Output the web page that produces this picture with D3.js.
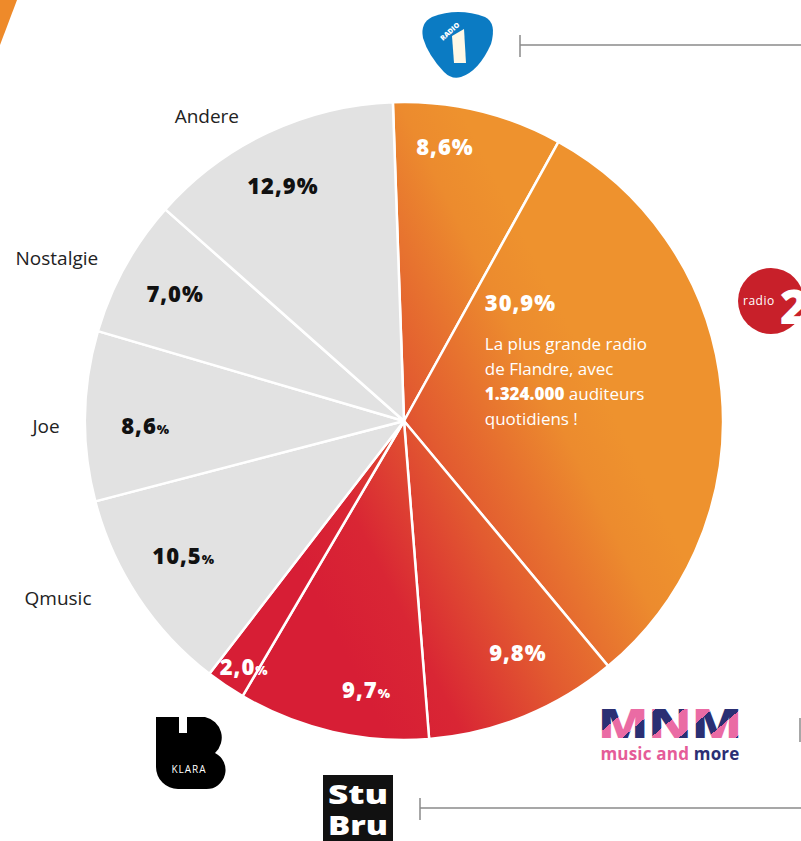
<!DOCTYPE html>
<html>
<head>
<meta charset="UTF-8">
<title></title>
<script src="https://d3js.org/d3.v7.min.js"></script>
<style>
  html, body { margin: 0; padding: 0; background: #fff; }
  svg { display: block; font-family: "Open Sans", Lato, sans-serif; }
</style>
</head>
<body>
<div id="chart"></div>
<script>
  // aandeel per zender (%), vanaf 12 uur met de klok mee
  const stations = ["Radio 1", "Radio 2", "MNM", "StuBru", "Klara", "Qmusic", "Joe", "Nostalgie", "Andere"];
  const shares = [8.6, 30.9, 9.8, 9.7, 2.0, 10.5, 8.6, 7.0, 12.9];
  const shareLabels = ["8,6", "30,9", "9,8", "9,7", "2,0", "10,5", "8,6", "7,0", "12,9"];
  const smallPercent = [false, false, false, true, true, true, true, false, false];
  const isVrt = [true, true, true, true, true, false, false, false, false];
  const outsideNames = ["", "", "", "", "", "Qmusic", "Joe", "Nostalgie", "Andere"];
  const radio2Note = ["La plus grande radio", "de Flandre, avec", "1.324.000|auditeurs", "quotidiens !"];

  const width = 801, height = 841;
  const cx = 404, cy = 421, radius = 319;
  const deg = Math.PI / 180;

  const svg = d3.select("#chart").append("svg").attr("width", width).attr("height", height);

  const defs = svg.append("defs");
  // verloop in het assenstelsel van de taart (middelpunt = 0,0)
  const grad = defs.append("linearGradient").attr("id", "vrtGrad")
    .attr("gradientUnits", "userSpaceOnUse")
    .attr("x1", -140).attr("y1", 70).attr("x2", 170).attr("y2", -85);
  grad.append("stop").attr("offset", "0").attr("stop-color", "#d71e35");
  grad.append("stop").attr("offset", "0.2").attr("stop-color", "#d92634");
  grad.append("stop").attr("offset", "0.5").attr("stop-color", "#e25a30");
  grad.append("stop").attr("offset", "0.85").attr("stop-color", "#ec8b2e");
  grad.append("stop").attr("offset", "1").attr("stop-color", "#ee922e");

  // oranje hoekje linksboven
  svg.append("path").attr("d", "M0,0 L17,0 L0,45 Z").attr("fill", "#ee8a2a");

  const pie = d3.pie().sort(null).value(d => d)
    .startAngle(-2 * deg).endAngle(358 * deg);
  const arcs = pie(shares);
  const arc = d3.arc().innerRadius(0).outerRadius(radius);

  const g = svg.append("g").attr("transform", `translate(${cx},${cy})`);

  g.selectAll("path.slice")
    .data(arcs)
    .join("path")
    .attr("class", "slice")
    .attr("d", arc)
    .attr("fill", (d, i) => isVrt[i] ? "url(#vrtGrad)" : "#e2e2e2")
    .attr("stroke", "#fff")
    .attr("stroke-width", 2.5)
    .attr("stroke-linejoin", "round");

  // labelstraal per segment (fractie van de straal)
  const labelR = [0.87, 0.5, 0.81, 0.85, 0.92, 0.81, 0.81, 0.82, 0.83];
  const labelShift = [-5, 0, -4, -5, -1, 2, -2, 0, -2]; // graden
  const polar = (a, r) => [Math.sin(a) * r, -Math.cos(a) * r];

  arcs.forEach((d, i) => {
    if (i === 1) return;
    const mid = (d.startAngle + d.endAngle) / 2 + labelShift[i] * deg;
    const [x, y] = polar(mid, radius * labelR[i]);
    const t = g.append("text")
      .attr("x", x).attr("y", y + 8)
      .attr("text-anchor", "middle")
      .attr("font-weight", 800)
      .attr("font-size", 22)
      .attr("letter-spacing", 1)
      .attr("fill", isVrt[i] ? "#fff" : "#111");
    t.append("tspan").text(shareLabels[i]);
    t.append("tspan").text("%").attr("font-size", smallPercent[i] ? 13 : 22);
  });

  // Radio 2 blok
  {
    const d = arcs[1];
    const mid = (d.startAngle + d.endAngle) / 2;
    const [x0, y0] = polar(mid, radius * 0.5);
    const left = x0 - 78;
    g.append("text").attr("x", left).attr("y", y0 - 95)
      .attr("font-weight", 800).attr("font-size", 22).attr("letter-spacing", 1)
      .attr("fill", "#fff").text(shareLabels[1] + "%");
    radio2Note.forEach((line, k) => {
      const t = g.append("text").attr("x", left).attr("y", y0 - 56 + k * 25)
        .attr("font-size", 17).attr("fill", "#fff");
      if (line.includes("|")) {
        const [b, r] = line.split("|");
        t.append("tspan").attr("font-weight", 800).text(b);
        t.append("tspan").text(" " + r);
      } else t.text(line);
    });
  }

  // namen buiten de taart
  const outerAngle = [0, 0, 0, 0, 0, 242.8, 269, 295, 327];
  const outerR = [0, 0, 0, 0, 0, 389, 358, 383, 362];
  outsideNames.forEach((name, i) => {
    if (!name) return;
    const [x, y] = polar(outerAngle[i] * deg, outerR[i]);
    g.append("text").attr("x", x).attr("y", y + 6)
      .attr("text-anchor", "middle").attr("font-size", 19).attr("fill", "#222")
      .text(name);
  });

  // verbindingslijnen
  const lineColor = "#8a8a8a";
  const lines = svg.append("g").attr("stroke", lineColor).attr("stroke-width", 1.5);
  lines.append("line").attr("x1", 520).attr("y1", 45).attr("x2", 801).attr("y2", 45);
  lines.append("line").attr("x1", 520).attr("y1", 35).attr("x2", 520).attr("y2", 57);
  lines.append("line").attr("x1", 420).attr("y1", 808).attr("x2", 801).attr("y2", 808);
  lines.append("line").attr("x1", 420).attr("y1", 798).attr("x2", 420).attr("y2", 820);
  lines.append("line").attr("x1", 800).attr("y1", 718).attr("x2", 800).attr("y2", 742);

  // logo Radio 1
  const r1 = svg.append("g");
  r1.append("path")
    .attr("d", "M432,17 Q458,7 485,17 Q497,23 491,44 Q479,71 461,77 Q452,80 444,72 Q428,55 423,38 Q420,23 432,17 Z")
    .attr("fill", "#0b7bc3");
  r1.append("path").attr("d", "M452,36 L464,29 L466,63 L454,63 Z").attr("fill", "#fff8e6");
  r1.append("text").attr("transform", "translate(443,41) rotate(-42)")
    .attr("font-size", 7).attr("font-weight", 800).attr("fill", "#fff").text("RADIO");

  // logo Radio 2
  const r2 = svg.append("g");
  r2.append("circle").attr("cx", 771).attr("cy", 301).attr("r", 33).attr("fill", "#c8202a");
  r2.append("text").attr("x", 743).attr("y", 305).attr("font-size", 12).attr("fill", "#fff")
    .attr("letter-spacing", 0.5).text("radio");
  r2.append("text").attr("x", 780).attr("y", 324).attr("font-size", 48).attr("font-weight", 800)
    .attr("fill", "#fff").text("2");

  // logo MNM
  const mg = defs.append("linearGradient").attr("id", "mnmGrad")
    .attr("gradientUnits", "userSpaceOnUse").attr("x1", 598).attr("y1", 710).attr("x2", 622).attr("y2", 738)
    .attr("spreadMethod", "repeat");
  mg.append("stop").attr("offset", "0.5").attr("stop-color", "#2b2f73");
  mg.append("stop").attr("offset", "0.5").attr("stop-color", "#ea6ba4");
  const mnm = svg.append("text").attr("text-anchor", "middle").attr("font-weight", 800);
  mnm.append("tspan").attr("x", 670).attr("y", 738)
    .attr("font-size", 40).attr("textLength", 144).attr("lengthAdjust", "spacingAndGlyphs")
    .attr("fill", "url(#mnmGrad)").text("MNM");
  mnm.append("tspan").attr("x", 670).attr("y", 760)
    .attr("font-size", 17).attr("font-weight", 700).attr("letter-spacing", 0.2)
    .attr("fill", "#e55c98").text("music and ");
  mnm.append("tspan").attr("font-size", 17).attr("font-weight", 700).attr("letter-spacing", 0.2)
    .attr("fill", "#2b2f73").text("more");

  // logo Klara
  const kl = svg.append("g");
  kl.append("path")
    .attr("d", "M156,717 H179 V733 H187 V717 H205 A21,21 0 0 1 215,753 A19,19 0 0 1 206,789 H178 A22,22 0 0 1 156,767 Z")
    .attr("fill", "#000");
  kl.append("text").attr("x", 189).attr("y", 773).attr("text-anchor", "middle")
    .attr("font-size", 10).attr("letter-spacing", 1).attr("fill", "#fff").text("KLARA");

  // logo StuBru
  svg.append("rect").attr("x", 323).attr("y", 775).attr("width", 70).attr("height", 66).attr("fill", "#111");
  const sb = svg.append("text").attr("text-anchor", "middle")
    .attr("font-size", 27).attr("font-weight", 800).attr("fill", "#fff");
  sb.append("tspan").attr("x", 358).attr("y", 804)
    .attr("textLength", 60).attr("lengthAdjust", "spacingAndGlyphs").text("Stu");
  sb.append("tspan").attr("x", 358).attr("y", 835)
    .attr("textLength", 60).attr("lengthAdjust", "spacingAndGlyphs").text("Bru");
</script>
</body>
</html>
